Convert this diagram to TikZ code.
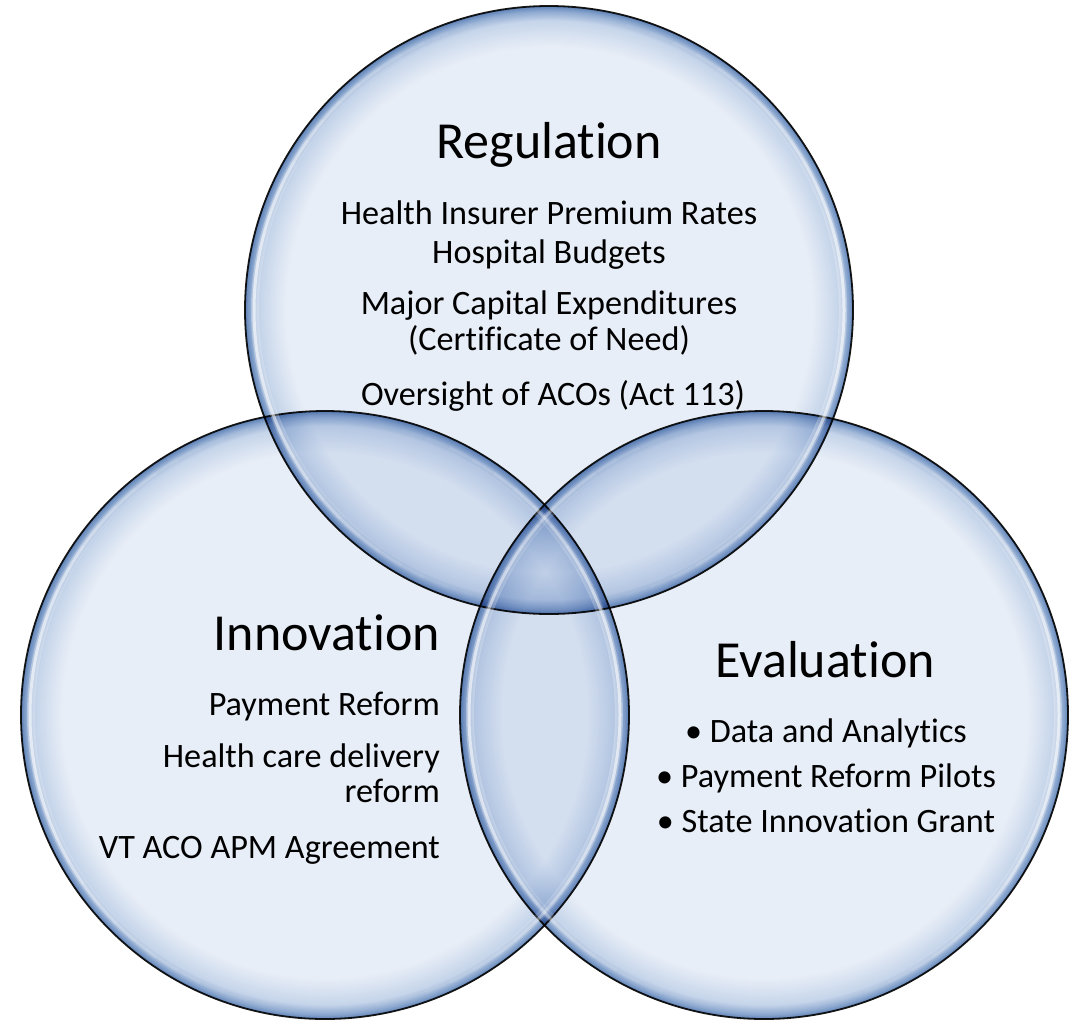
\documentclass[tikz,border=0pt]{standalone}
\usepackage{fontspec}
\setmainfont{Carlito}[Ligatures={NoCommon}]
\usetikzlibrary{calc}
\definecolor{bin}{HTML}{E8EEF7}
\definecolor{bmid}{HTML}{C6D5EA}
\definecolor{bdark}{HTML}{8BA7CF}
\definecolor{bedge}{HTML}{5D81B5}
\pgfdeclareradialshading{bubble}{\pgfpoint{0bp}{0bp}}{color(0bp)=(bin); color(21.6bp)=(bin); color(23.8bp)=(bmid); color(24.6bp)=(bdark); color(25bp)=(bedge); color(50bp)=(bedge)}
\tikzset{
  titletext/.style={font=\fontsize{52}{60}\selectfont, inner sep=0pt, anchor=base},
  bodytext/.style={font=\fontsize{34.2}{40}\selectfont, inner sep=0pt, anchor=base},
  rightbody/.style={bodytext, anchor=base east},
  rightitle/.style={titletext, anchor=base east},
  rimline/.style={draw=black!90, line width=1.8pt},
  glintsoft/.style={draw=white, line width=8pt},
  glintcore/.style={draw=white, line width=3pt},
}
\begin{document}
\begin{tikzpicture}[x=1pt,y=-1pt]
\fill[white] (0,0) rectangle (1079,1021);
\useasboundingbox (0,0) rectangle (1079,1021);
\coordinate (cT) at (549,310);
\coordinate (cL) at (325,715);
\coordinate (cR) at (764,715);
\begin{scope}[blend group=multiply]
  \foreach \c in {cT,cL,cR}{
    \shade[shading=bubble] (\c) circle[radius=304];
  }
  \foreach \c in {cT,cL,cR}{
    \draw[rimline] (\c) circle[radius=304];
  }
\end{scope}
% glass highlights
\foreach \c in {cT,cL,cR}{
  \foreach \a in {0,5,...,355}{
    \pgfmathsetmacro\ops{0.3*(cos(\a+2.5))^2}
    \pgfmathsetmacro\opc{0.6*(cos(\a+2.5))^2}
    \draw[glintsoft, opacity=\ops] ($(\c)+(\a:294)$) arc[start angle=\a, end angle=\a+5, radius=294];
    \draw[glintcore, opacity=\opc] ($(\c)+(\a:295)$) arc[start angle=\a, end angle=\a+5, radius=295];
  }
}
% Regulation
\node[titletext] (reg) at (549,158) {Regulation};
\node[bodytext] (reg1) at (549,224) {Health Insurer Premium Rates};
\node[bodytext] (reg2) at (549,263) {Hospital Budgets};
\node[bodytext] (reg3) at (549,314) {Major Capital Expenditures};
\node[bodytext] (reg4) at (549,350) {(Certificate of Need)};
\node[bodytext] (reg5) at (553,405) {Oversight of ACOs (Act 113)};
% Innovation
\node[rightitle] (inn) at (440,650) {Innovation};
\node[rightbody] (inn1) at (440,715) {Payment Reform};
\node[rightbody] (inn2) at (440,767) {Health care delivery};
\node[rightbody] (inn3) at (440,802) {reform};
\node[rightbody] (inn4) at (440,858) {VT ACO APM Agreement};
% Evaluation
\node[titletext] (eva) at (825,677) {Evaluation};
\node[bodytext] (eva1) at (826,742) {• Data and Analytics};
\node[bodytext] (eva2) at (826,787) {• Payment Reform Pilots};
\node[bodytext] (eva3) at (826,832) {• State Innovation Grant};
\end{tikzpicture}
\end{document}
